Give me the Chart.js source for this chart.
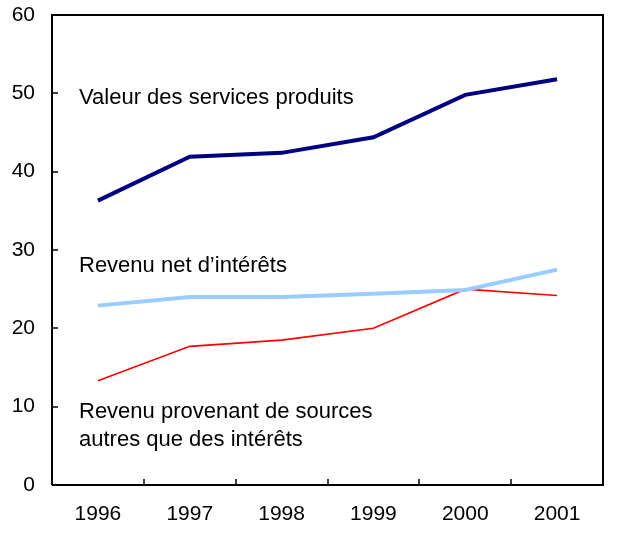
<!DOCTYPE html>
<html>
<head>
<meta charset="utf-8">
<script src="https://cdn.jsdelivr.net/npm/chart.js@4.4.1/dist/chart.umd.min.js"></script>
<style>
  html, body { margin: 0; padding: 0; background: #fff; }
  #wrap { width: 619px; height: 539px; }
</style>
</head>
<body>
<div id="wrap"><canvas id="chart"></canvas></div>
<script>
// years on the x axis
var years = ['1996', '1997', '1998', '1999', '2000', '2001'];

// series
var valeurServices = [36.3, 41.9, 42.4, 44.4, 49.8, 51.8];
var revenuNetInterets = [22.9, 24.0, 24.0, 24.4, 24.9, 27.5];
var revenuAutres = [13.3, 17.7, 18.5, 20.0, 25.0, 24.2];

var yTicks = [0, 10, 20, 30, 40, 50, 60];

// text labels inside the plot (y in data units)
var labelLines = [
  { text: 'Valeur des services produits', y: 49.4 },
  { text: "Revenu net d\u2019int\u00e9r\u00eats", y: 28.0 },
  { text: 'Revenu provenant de sources', y: 9.3 },
  { text: 'autres que des int\u00e9r\u00eats', y: 5.7 }
];

var FONT = 'Arial, "Liberation Sans", sans-serif';

// frame, inward tick marks and in-plot labels
var framePlugin = {
  id: 'frame',
  afterDraw: function(chart) {
    var ctx = chart.ctx;
    var a = chart.chartArea;
    var xs = chart.scales.x, ys = chart.scales.y;
    ctx.save();
    ctx.strokeStyle = '#000';
    ctx.lineWidth = 2;
    ctx.beginPath();
    ctx.moveTo(a.left, a.bottom);
    ctx.lineTo(a.left, a.top);
    ctx.lineTo(a.right, a.top);
    ctx.lineTo(a.right, a.bottom);
    ctx.lineTo(a.left, a.bottom);
    ctx.stroke();
    ctx.lineWidth = 1.5;
    ctx.beginPath();
    yTicks.forEach(function(v) {
      var py = Math.round(ys.getPixelForValue(v));
      ctx.moveTo(a.left, py);
      ctx.lineTo(a.left + 6, py);
    });
    for (var i = 1; i < years.length; i++) {
      var px = Math.round((xs.getPixelForValue(i - 1) + xs.getPixelForValue(i)) / 2);
      ctx.moveTo(px, a.bottom);
      ctx.lineTo(px, a.bottom - 6);
    }
    ctx.stroke();
    ctx.fillStyle = '#000';
    ctx.font = '22px ' + FONT;
    ctx.textBaseline = 'middle';
    ctx.textAlign = 'left';
    labelLines.forEach(function(l) {
      ctx.fillText(l.text, a.left + 27, ys.getPixelForValue(l.y));
    });
    ctx.restore();
  }
};

new Chart(document.getElementById('chart').getContext('2d'), {
  type: 'line',
  data: {
    labels: years,
    datasets: [{
      label: 'Valeur des services produits',
      data: valeurServices,
      borderColor: '#000080',
      borderWidth: 4,
      pointRadius: 0,
      tension: 0,
      fill: false
    }, {
      label: "Revenu net d'intérêts",
      data: revenuNetInterets,
      borderColor: '#99ccff',
      borderWidth: 4,
      pointRadius: 0,
      tension: 0,
      fill: false
    }, {
      label: 'Revenu provenant de sources autres que des intérêts',
      data: revenuAutres,
      borderColor: '#ff0000',
      borderWidth: 1.6,
      pointRadius: 0,
      tension: 0,
      fill: false
    }]
  },
  options: {
    responsive: true,
    maintainAspectRatio: false,
    animation: false,
    layout: { padding: { top: 15, right: 16, left: 0, bottom: 0 } },
    plugins: {
      legend: { display: false },
      tooltip: { enabled: false }
    },
    scales: {
      x: {
        offset: true,
        grid: { display: false, drawTicks: false },
        border: { display: false },
        ticks: {
          color: '#000',
          padding: 17,
          maxRotation: 0,
          font: { size: 21, family: FONT }
        },
        afterFit: function(scale) { scale.height = 54; }
      },
      y: {
        min: 0,
        max: 60,
        grid: { display: false, drawTicks: false },
        border: { display: false },
        ticks: {
          color: '#000',
          stepSize: 10,
          padding: 17,
          font: { size: 21, family: FONT }
        },
        afterFit: function(scale) {
          scale.width = 52;
          scale.paddingTop = 0;
          scale.paddingBottom = 0;
        }
      }
    }
  },
  plugins: [framePlugin]
});
</script>
</body>
</html>
